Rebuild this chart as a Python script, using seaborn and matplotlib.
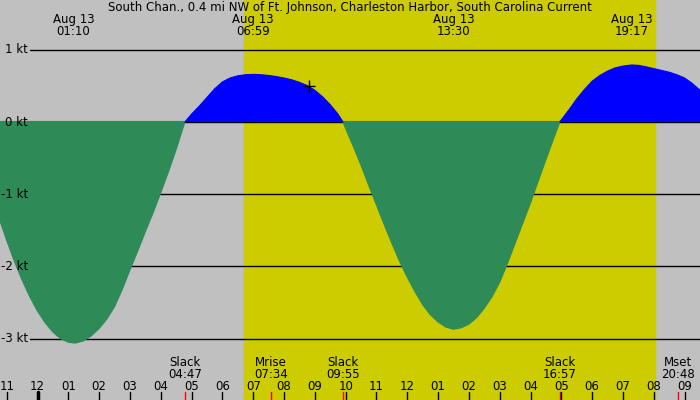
import numpy as np
import pandas as pd
import matplotlib
matplotlib.use('Agg')
import matplotlib.pyplot as plt
import matplotlib.transforms as mtransforms
import seaborn as sns

# 数据：时间（小时，相对8月13日0点）与流速（kt），每刻钟读一次
hours = [-1.25, -1.0, -0.75, -0.5, -0.25, 0.0, 0.25, 0.5, 0.75, 1.0, 1.167, 1.25, 1.5, 1.75,
         2.0, 2.25, 2.5, 2.75, 3.0, 3.25, 3.5, 3.75, 4.0, 4.25, 4.5, 4.783,
         5.0, 5.25, 5.5, 5.75, 6.0, 6.25, 6.5, 6.75, 7.0, 7.25, 7.5, 7.75, 8.0, 8.25,
         8.5, 8.75, 9.0, 9.25, 9.5, 9.75, 9.917,
         10.0, 10.25, 10.5, 10.75, 11.0, 11.25, 11.5, 11.75, 12.0, 12.25, 12.5, 12.75,
         13.0, 13.25, 13.5, 13.75, 14.0, 14.25, 14.5, 14.75, 15.0, 15.25, 15.5, 15.75,
         16.0, 16.25, 16.5, 16.75, 16.95,
         17.0, 17.25, 17.5, 17.75, 18.0, 18.25, 18.5, 18.75, 19.0, 19.283, 19.5, 19.75,
         20.0, 20.25, 20.5, 20.75, 21.0, 21.25, 21.5]
speed = [-1.33, -1.64, -1.93, -2.19, -2.42, -2.62, -2.78, -2.91, -3.00, -3.05, -3.06, -3.06, -3.03, -2.96,
         -2.86, -2.73, -2.56, -2.32, -2.05, -1.79, -1.52, -1.26, -0.98, -0.69, -0.38, 0.0,
         0.11, 0.22, 0.34, 0.46, 0.555, 0.61, 0.64, 0.655, 0.66, 0.655, 0.645, 0.63, 0.61, 0.585,
         0.55, 0.505, 0.44, 0.35, 0.24, 0.11, 0.0,
         -0.09, -0.34, -0.60, -0.88, -1.15, -1.42, -1.68, -1.93, -2.15, -2.35, -2.53, -2.67,
         -2.77, -2.84, -2.87, -2.85, -2.80, -2.71, -2.58, -2.42, -2.22, -1.96, -1.68, -1.40,
         -1.12, -0.82, -0.52, -0.23, 0.0,
         0.03, 0.17, 0.32, 0.45, 0.565, 0.645, 0.705, 0.75, 0.775, 0.79, 0.785, 0.765,
         0.74, 0.715, 0.69, 0.655, 0.61, 0.535, 0.44]

title = 'South Chan., 0.4 mi NW of Ft. Johnson, Charleston Harbor, South Carolina Current'
peak_times = [1.167, 6.983, 13.5, 19.283]
peak_labels = ['01:10', '06:59', '13:30', '19:17']
event_names = ['Slack', 'Mrise', 'Slack', 'Slack', 'Mset']
event_times = [4.783, 7.567, 9.917, 16.95, 20.8]
event_labels = ['04:47', '07:34', '09:55', '16:57', '20:48']
hour_ticks = list(range(-1, 22))
hour_labels = ['11', '12', '01', '02', '03', '04', '05', '06', '07', '08', '09', '10',
               '11', '12', '01', '02', '03', '04', '05', '06', '07', '08', '09']
kt_levels = [1, 0, -1, -2, -3]
sunrise, sunset = 6.70, 20.04
now_time, now_speed = 8.81, 0.50

GRAY = '#c0c0c0'
YELLOW = '#cccc00'
GREEN = '#2e8b57'
BLUE = '#0000ff'

sns.set_style('white')
plt.rcParams['font.family'] = ['DejaVu Sans']
plt.rcParams['text.color'] = 'black'

# 按正负分段，零点同时归入相邻两段
rows = []
seg = 0
for i, (t, v) in enumerate(zip(hours, speed)):
    if v == 0 and i > 0:
        rows.append((t, v, seg, 'ebb' if speed[i - 1] < 0 else 'flood'))
        seg += 1
        rows.append((t, v, seg, 'ebb' if speed[i + 1] < 0 else 'flood'))
    else:
        rows.append((t, v, seg, 'ebb' if v < 0 else 'flood'))
df = pd.DataFrame(rows, columns=['hour', 'speed', 'segment', 'phase'])

fig = plt.figure(figsize=(7, 4), dpi=100, facecolor=GRAY)
ax = fig.add_axes([0, 0, 1, 1])
ax.set_xlim(-1.217, 21.50)
ax.set_ylim(-3.85, 1.69)

ax.axvspan(sunrise, sunset, color=YELLOW, zorder=0)

for lv in kt_levels:
    ax.axhline(lv, xmin=30 / 700, color='black', lw=1.0, zorder=1)

h = np.array(hours)
s = np.array(speed)
ax.fill_between(h, s, 0.015, where=s <= 0, interpolate=True, color=GREEN, lw=0, zorder=2)
ax.fill_between(h, s, 0, where=s >= 0, interpolate=True, color=BLUE, lw=0, zorder=2)
sns.lineplot(data=df, x='hour', y='speed', hue='phase', units='segment', estimator=None,
             palette={'ebb': GREEN, 'flood': BLUE}, lw=0.8, legend=False, ax=ax, zorder=3)
ax.set_axis_off()

ax.plot([now_time], [now_speed], marker='+', color='black', ms=9, mew=1.0, zorder=4)

# 文本（按参考图的基线位置）
fs = 8.5
fy = mtransforms.blended_transform_factory(ax.transData, ax.transAxes)
fx = mtransforms.blended_transform_factory(ax.transAxes, ax.transData)
ax.text(0.5, 1 - 11 / 400, title, transform=ax.transAxes, ha='center', va='baseline', fontsize=fs)
for t, lab in zip(peak_times, peak_labels):
    ax.text(t, 1 - 23 / 400, 'Aug 13', transform=fy, ha='center', va='baseline', fontsize=fs)
    ax.text(t, 1 - 35 / 400, lab, transform=fy, ha='center', va='baseline', fontsize=fs)
for lv in kt_levels:
    ax.text(28 / 700, lv, f'{lv} kt', transform=fx, ha='right', va='center', fontsize=fs, zorder=5)
for t, name, lab in zip(event_times, event_names, event_labels):
    ax.text(t, 1 - 366 / 400, name, transform=fy, ha='center', va='baseline', fontsize=fs)
    ax.text(t, 1 - 377.5 / 400, lab, transform=fy, ha='center', va='baseline', fontsize=fs)
    ax.plot([t, t], [0, 8 / 400], transform=fy, color='red', lw=1.0, zorder=5)
for t, lab in zip(hour_ticks, hour_labels):
    ax.text(t, 1 - 389.5 / 400, lab, transform=fy, ha='center', va='baseline', fontsize=fs)
    ax.plot([t, t], [0, 8 / 400], transform=fy, color='black', lw=2.5 if t == 0 else 1.0, zorder=5)

fig.savefig('out.png', dpi=100, facecolor=GRAY)
